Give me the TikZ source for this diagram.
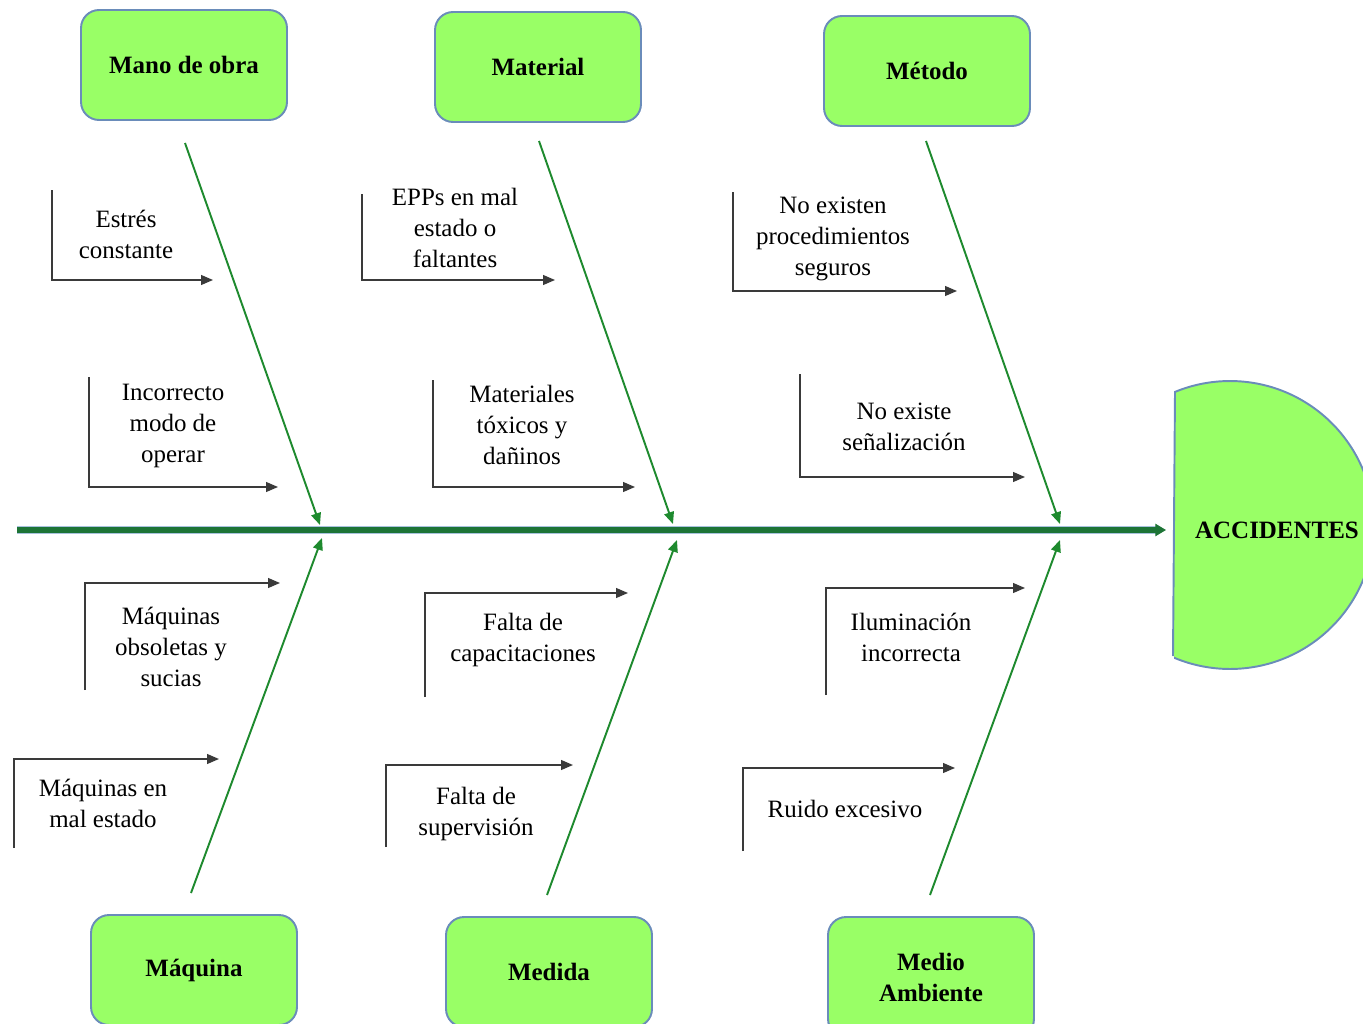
\documentclass[tikz,border=0pt]{standalone}
\usepackage{fontspec}
\setmainfont{Liberation Serif}
\usetikzlibrary{arrows.meta}
\definecolor{boxfill}{HTML}{99FF66}
\definecolor{boxline}{HTML}{6A8CBA}
\definecolor{bonegreen}{HTML}{1E8A2E}
\definecolor{spinegreen}{HTML}{1D7436}
\definecolor{spineedge}{HTML}{A9C2DE}
\definecolor{causeline}{HTML}{3A3A3A}
\begin{document}
\begin{tikzpicture}[x=0.02cm,y=-0.02cm,
  every node/.style={font=\fontsize{14.2}{17.6}\selectfont, text=black, align=center, inner sep=0pt},
  category/.style={draw=boxline, fill=boxfill, line width=1.1pt, rounded corners=0.36cm,
    minimum width=4.12cm, minimum height=2.2cm, font=\fontsize{14.2}{17.6}\selectfont\bfseries},
  bone/.style={draw=bonegreen, line width=1.1pt, -{Triangle[length=6.8pt,width=5.6pt]}},
  cause/.style={draw=causeline, line width=0.9pt, -{Triangle[length=6.8pt,width=5.6pt]}},
  causetext/.style={}
]
\clip (0,0) rectangle (1363,1024);

% effect head: half disc on the right
\begin{scope}
  \clip (1174,0) rectangle (1400,1024);
  \filldraw[fill=boxfill, draw=boxline, line width=1.1pt] (1230,525) circle[radius=2.88cm];
\end{scope}
\draw[boxline, line width=1.1pt] (1175,392) -- (1173,656);
\node[font=\fontsize{14.2}{17.6}\selectfont\bfseries] (head) at (1277,530) {ACCIDENTES};

% spine
\coordinate (tail) at (17,530);
\coordinate (spineend) at (1166,530);
\coordinate (spinestop) at (1156,530);
\draw[spineedge, line width=4.6pt] (tail) -- (spinestop);
\draw[spinegreen, line width=3.2pt] (tail) -- (spinestop);
\draw[spinegreen, line width=0.6pt, -{Triangle[length=6pt,width=7pt]}] (spinestop) -- (spineend);

% category boxes
\node[category] (mano) at (184,65) {Mano de obra};
\node[category] (material) at (538,67) {Material};
\node[category] (metodo) at (927,71) {Método};
\node[category] (maquina) at (194,970) {Máquina};
\node[category] (medida) at (549,972) {Medida};
\node[category, minimum height=2.4cm] (medio) at (931,977) {Medio\\Ambiente};

% bones
\coordinate (b1s) at (185,143);  \coordinate (b1e) at (320,525);
\coordinate (b2s) at (539,141);  \coordinate (b2e) at (673,524);
\coordinate (b3s) at (926,141);  \coordinate (b3e) at (1060,524);
\coordinate (b4s) at (191,893);  \coordinate (b4e) at (322,538);
\coordinate (b5s) at (547,895);  \coordinate (b5e) at (677,540);
\coordinate (b6s) at (930,895);  \coordinate (b6e) at (1060,540);
\foreach \i in {1,...,6} {\draw[bone] (b\i s) -- (b\i e);}

% causes above the spine
\coordinate (u1a) at (52,190);   \coordinate (u1b) at (213,280);
\coordinate (u2a) at (89,377);   \coordinate (u2b) at (278,487);
\coordinate (u3a) at (362,194);  \coordinate (u3b) at (555,280);
\coordinate (u4a) at (433,380);  \coordinate (u4b) at (635,487);
\coordinate (u5a) at (733,192);  \coordinate (u5b) at (957,291);
\coordinate (u6a) at (800,374);  \coordinate (u6b) at (1025,477);
% causes below the spine
\coordinate (l1a) at (85,690);   \coordinate (l1b) at (280,583);
\coordinate (l2a) at (14,848);   \coordinate (l2b) at (219,759);
\coordinate (l3a) at (425,697);  \coordinate (l3b) at (628,593);
\coordinate (l4a) at (386,847);  \coordinate (l4b) at (573,765);
\coordinate (l5a) at (826,695);  \coordinate (l5b) at (1025,588);
\coordinate (l6a) at (743,851);  \coordinate (l6b) at (955,768);
\foreach \i in {1,...,6} {
  \draw[cause] (u\i a) |- (u\i b);
  \draw[cause] (l\i a) |- (l\i b);
}

\node[causetext] (t1) at (126,234) {Estrés\\constante};
\node[causetext] (t2) at (173,426) {Incorrecto\\modo de\\operar};
\node[causetext] (t3) at (455,228) {EPPs en mal\\estado o\\faltantes};
\node[causetext] (t4) at (522,425) {Materiales\\tóxicos y\\dañinos};
\node[causetext] (t5) at (833,239) {No existen\\procedimientos\\seguros};
\node[causetext] (t6) at (904,427) {No existe\\señalización};
\node[causetext] (t7) at (171,647) {Máquinas\\obsoletas y\\sucias};
\node[causetext] (t8) at (103,803) {Máquinas en\\mal estado};
\node[causetext] (t9) at (523,640) {Falta de\\capacitaciones};
\node[causetext] (t10) at (476,814) {Falta de\\supervisión};
\node[causetext] (t11) at (911,637) {Iluminación\\incorrecta};
\node[causetext] (t12) at (845,809) {Ruido excesivo};
\end{tikzpicture}
\end{document}
